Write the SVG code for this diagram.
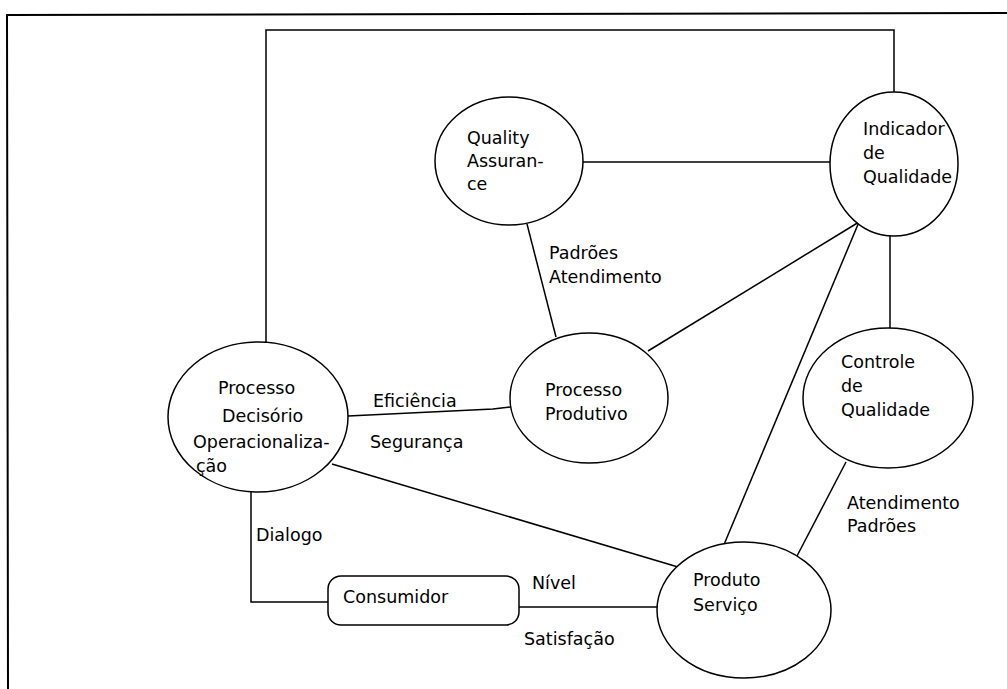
<svg xmlns="http://www.w3.org/2000/svg" width="1007" height="689" viewBox="0 0 1007 689">
<style>
.n{fill:#fff;stroke:#000;stroke-width:1.5}
.c{fill:none;stroke:#000;stroke-width:1.5}
.f{fill:none;stroke:#000;stroke-width:2}
text{font-family:"DejaVu Sans","Liberation Sans",sans-serif;font-size:17.5px;fill:#000}
</style>
<rect width="1007" height="689" fill="#fff"/>
<g id="frame">
<polyline class="f" points="1007,13 7,15 8,689"/>
</g>
<g id="connectors">
<polyline class="c" points="266,347 266,30 894,30 894,92"/>
<line class="c" x1="583" y1="162" x2="830" y2="162"/>
<line class="c" x1="527" y1="224" x2="556" y2="337"/>
<line class="c" x1="648" y1="351" x2="859" y2="222"/>
<line class="c" x1="859" y1="222" x2="723" y2="547"/>
<line class="c" x1="890" y1="235" x2="890" y2="330"/>
<line class="c" x1="846" y1="462" x2="797" y2="556"/>
<polyline class="c" points="348,416 493,409 511,407"/>
<line class="c" x1="332" y1="464" x2="678" y2="567"/>
<polyline class="c" points="251,491 251,602 328,602"/>
<line class="c" x1="519" y1="607" x2="658" y2="607"/>
</g>
<g id="labels">
<text x="549" y="259">Padrões</text>
<text x="549" y="283">Atendimento</text>
<text x="373" y="407">Eficiência</text>
<text x="370" y="448">Segurança</text>
<text x="256" y="541">Dialogo</text>
<text x="532" y="589">Nível</text>
<text x="524" y="645">Satisfação</text>
<text x="847" y="509">Atendimento</text>
<text x="847" y="532">Padrões</text>
</g>
<g id="quality-assurance">
<ellipse class="n" cx="509" cy="161" rx="74" ry="64"/>
<text x="467" y="144">Quality</text>
<text x="467" y="167">Assuran-</text>
<text x="467" y="190">ce</text>
</g>
<g id="indicador-de-qualidade">
<ellipse class="n" cx="894" cy="164" rx="64" ry="72"/>
<text x="863" y="135">Indicador</text>
<text x="863" y="159">de</text>
<text x="863" y="183">Qualidade</text>
</g>
<g id="controle-de-qualidade">
<ellipse class="n" cx="888" cy="398" rx="85" ry="70"/>
<text x="841" y="368">Controle</text>
<text x="841" y="392">de</text>
<text x="841" y="416">Qualidade</text>
</g>
<g id="processo-produtivo">
<ellipse class="n" cx="589" cy="398" rx="79" ry="65"/>
<text x="545" y="396">Processo</text>
<text x="545" y="420">Produtivo</text>
</g>
<g id="processo-decisorio">
<ellipse class="n" cx="258" cy="417" rx="90" ry="75"/>
<text x="218" y="394">Processo</text>
<text x="222" y="422">Decisório</text>
<text x="193" y="448">Operacionaliza-</text>
<text x="196" y="472">ção</text>
</g>
<g id="produto-servico">
<ellipse class="n" cx="744" cy="610" rx="87" ry="68"/>
<text x="693" y="586">Produto</text>
<text x="693" y="611">Serviço</text>
</g>
<g id="consumidor">
<rect class="n" x="328" y="576" width="191" height="49" rx="13"/>
<text x="343" y="603">Consumidor</text>
</g>
</svg>
